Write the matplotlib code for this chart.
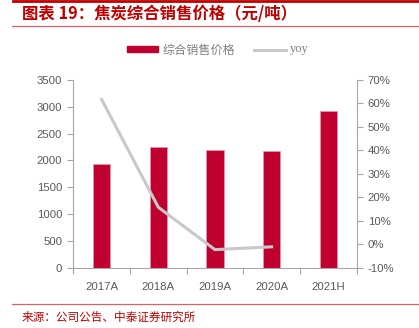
import matplotlib
matplotlib.use("Agg")
import matplotlib.pyplot as plt
from matplotlib.patches import Rectangle
from matplotlib.lines import Line2D

categories = ["2017A", "2018A", "2019A", "2020A", "2021H"]
price = [1927, 2257, 2201, 2183, 2922]
yoy = [61.6, 15.8, -2.2, -1.0]
left_ticks = [0, 500, 1000, 1500, 2000, 2500, 3000, 3500]
right_ticks = [-10, 0, 10, 20, 30, 40, 50, 60, 70]

title = "图表 19：焦炭综合销售价格（元/吨）"
source = "来源：公司公告、中泰证券研究所"
bar_label = "综合销售价格"
line_label = "yoy"

W, H = 419, 328
fig = plt.figure(figsize=(W / 100, H / 100), dpi=100)

def fx(px):
    return px / W

def fy(py):
    return 1 - py / H

BAR = "#C0002F"
LINE = "#C8C8C8"
TXT = "#595959"
SPINE = "#A6A6A6"
RED = "#C00000"
CJK = ["Noto Sans CJK SC", "DejaVu Sans"]
NUM = ["Liberation Sans", "DejaVu Sans"]

ax = fig.add_axes([fx(73.3), fy(268), fx(356.7) - fx(73.3), fy(79.7) - fy(268)])
x = list(range(len(categories)))
ax.bar(x, price, width=0.31, color=BAR, edgecolor="#E8A0B0", linewidth=0.4, zorder=2)
ax.set_xlim(-0.5, len(categories) - 0.5)
ax.set_ylim(0, 3500)
ax.set_yticks(left_ticks)
ax.set_yticklabels([str(v) for v in left_ticks], fontfamily=NUM, fontsize=8.2, color=TXT)
ax.set_xticks([i - 0.5 for i in range(len(categories) + 1)])
ax.set_xticklabels([])
ax.set_xticks(x, minor=True)
ax.set_xticklabels(categories, minor=True, fontfamily=NUM, fontsize=8.2, color=TXT)
ax.tick_params(axis="x", which="minor", length=0, pad=10)
ax.tick_params(axis="x", which="major", length=4, color=SPINE, width=0.8)
ax.tick_params(axis="y", length=4, color=SPINE, width=0.8, pad=4)
for s in ["top", "right"]:
    ax.spines[s].set_visible(False)
for s in ["left", "bottom"]:
    ax.spines[s].set_color(SPINE)
    ax.spines[s].set_linewidth(0.8)

ax2 = ax.twinx()
ax2.plot(x[:len(yoy)], yoy, color=LINE, linewidth=2.2, zorder=3)
ax2.set_ylim(-10, 70)
ax2.set_yticks(right_ticks)
ax2.set_yticklabels([f"{v}%" for v in right_ticks], fontfamily=NUM, fontsize=8.2, color=TXT)
ax2.tick_params(axis="y", length=4, color=SPINE, width=0.8, pad=4)
for s in ["top", "left", "bottom"]:
    ax2.spines[s].set_visible(False)
ax2.spines["right"].set_color(SPINE)
ax2.spines["right"].set_linewidth(0.8)

# header / footer rules
fig.add_artist(Line2D([fx(13), 1], [fy(1), fy(1)], color=RED, linewidth=2.0))
fig.add_artist(Line2D([fx(12), 1], [fy(25.5), fy(25.5)], color="#E06060", linewidth=0.9))
fig.add_artist(Line2D([fx(12), 1], [fy(303.5), fy(303.5)], color="#E06060", linewidth=0.9))

fig.text(fx(22), fy(14), title, fontfamily=CJK, fontsize=11.8, fontweight="bold",
         color=RED, va="center", ha="left", style="italic")
fig.text(fx(22), fy(317), source, fontfamily=CJK, fontsize=8.4, color=RED,
         va="center", ha="left")

# legend
fig.add_artist(Rectangle((fx(127), fy(52.3)), fx(157.7) - fx(127), fy(46.3) - fy(52.3),
                         color=BAR, transform=fig.transFigure))
fig.text(fx(163), fy(50), bar_label, fontfamily=CJK, fontsize=8.7, color="#808080",
         va="center", ha="left")
fig.add_artist(Line2D([fx(254), fx(286)], [fy(50), fy(50)], color=LINE, linewidth=2.2))
fig.text(fx(290), fy(49), line_label, fontfamily=["Liberation Serif", "DejaVu Serif"],
         fontsize=9, color="#808080", va="center", ha="left")

fig.savefig("out.png", dpi=100)
